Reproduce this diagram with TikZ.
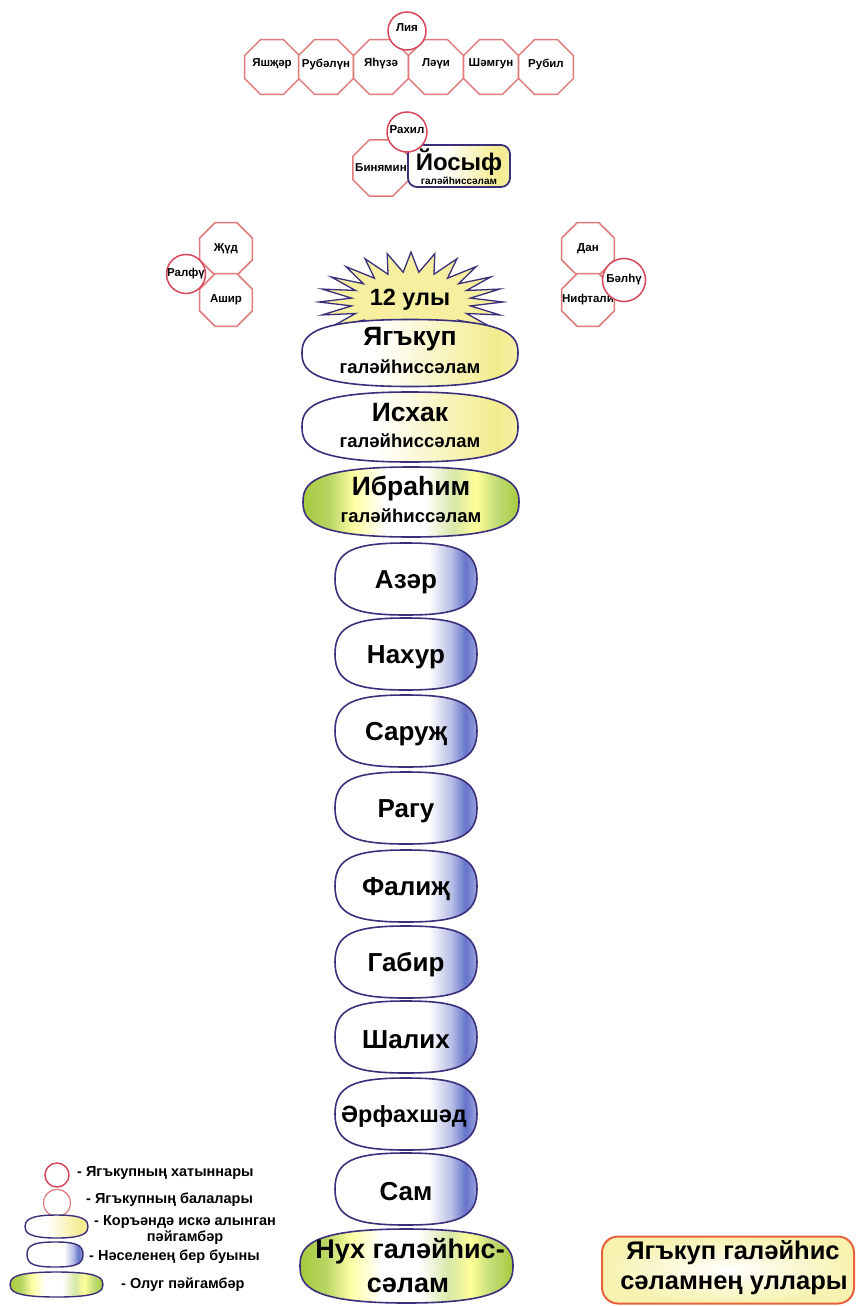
\documentclass[tikz,border=0pt]{standalone}
\usepackage{fontspec}
\setmainfont{Liberation Sans}
\usetikzlibrary{shapes.geometric}
\definecolor{octc}{HTML}{E07A7A}
\definecolor{wifec}{HTML}{D9475A}
\definecolor{purc}{HTML}{3B2F7C}
\definecolor{yelc}{HTML}{F3EC8E}
\definecolor{grnc}{HTML}{A6CB3C}
\definecolor{bluc}{HTML}{4A5BC0}
\definecolor{orc}{HTML}{E8623C}
\pgfdeclarehorizontalshading{yelshade}{100bp}{color(0bp)=(white); color(25bp)=(white); color(42bp)=(white); color(70bp)=(yelc); color(75bp)=(yelc!80); color(100bp)=(yelc!80)}
\pgfdeclarehorizontalshading{blushade}{100bp}{color(0bp)=(white); color(25bp)=(white); color(58bp)=(white); color(66bp)=(bluc!40); color(71bp)=(bluc!85); color(75bp)=(bluc!55); color(100bp)=(bluc!55)}
\pgfdeclarehorizontalshading{grnshade}{100bp}{color(0bp)=(grnc); color(25bp)=(grnc); color(31bp)=(grnc!80!white); color(37bp)=(yellow!35!white); color(44bp)=(white); color(53bp)=(white); color(60bp)=(grnc!45!white); color(65bp)=(yellow!40!white); color(70bp)=(grnc!70!white); color(75bp)=(grnc); color(100bp)=(grnc)}
% #1 style, #2 cx, #3 cy, #4 half width, #5 half height, #6 k, #7 m
\newcommand\squircle[7]{\path[#1] ({#2},{#3-#5}) .. controls ({#2+#6*#4},{#3-#5}) and ({#2+#4},{#3-#7*#5}) .. ({#2+#4},{#3}) .. controls ({#2+#4},{#3+#7*#5}) and ({#2+#6*#4},{#3+#5}) .. ({#2},{#3+#5}) .. controls ({#2-#6*#4},{#3+#5}) and ({#2-#4},{#3+#7*#5}) .. ({#2-#4},{#3}) .. controls ({#2-#4},{#3-#7*#5}) and ({#2-#6*#4},{#3-#5}) .. cycle;}
\begin{document}
\begin{tikzpicture}[x=1pt,y=-1pt,
  octbox/.style={regular polygon, regular polygon sides=8, draw=octc, line width=1.5pt, fill=white, minimum size=59.5pt, inner sep=0pt},
  wifebox/.style={circle, draw=wifec, line width=1.5pt, fill=white, inner sep=0pt},
  smalltxt/.style={font=\bfseries\fontsize{11.5}{13}\selectfont, inner sep=0pt},
  nametxt/.style={font=\bfseries\fontsize{26}{27}\selectfont},
  bignametxt/.style={font=\bfseries\fontsize{26.5}{27}\selectfont},
  titletxt/.style={font=\bfseries\fontsize{18.5}{19}\selectfont},
  bigtxt/.style={font=\bfseries\fontsize{27}{28}\selectfont},
  legtxt/.style={font=\bfseries\fontsize{14.5}{16}\selectfont, inner sep=0pt, anchor=west},
  yelfill/.style={shade, shading=yelshade, draw=purc, line width=1.6pt},
  blufill/.style={shade, shading=blushade, draw=purc, line width=1.6pt},
  grnfill/.style={shade, shading=grnshade, draw=purc, line width=1.6pt}]
\useasboundingbox (0,0) rectangle (857,1306);
\fill[white] (0,0) rectangle (857,1306);

% top row: sons of Liya
\node[octbox, label={[smalltxt, yshift=3pt]center:Яшҗәр}] (yashjar) at (272,67) {};
\node[octbox, label={[smalltxt, yshift=3pt]center:Рубәлүн}] (rubalun) at (326,67) {};
\node[octbox, label={[smalltxt, yshift=3pt]center:Яһүзә}] (yahuza) at (381,67) {};
\node[octbox, label={[smalltxt, yshift=3pt]center:Ләүи}] (lavi) at (436,67) {};
\node[octbox, label={[smalltxt, yshift=3pt]center:Шәмгун}] (shamgun) at (491,67) {};
\node[octbox, label={[smalltxt, yshift=3pt]center:Рубил}] (rubil) at (546,67) {};
\node[wifebox, minimum size=38pt, label={[smalltxt, yshift=3pt]center:Лия}] (liya) at (407,31) {};

% Rahil group
\node[octbox, minimum size=61pt, label={[smalltxt]center:Бинямин}] (binyamin) at (381,168) {};
\node[draw=purc, line width=1.8pt, rounded corners=9pt, minimum width=102pt, minimum height=42pt, shade, shading=yelshade] (yosif) at (459,166) {};
\node[font=\bfseries\fontsize{24}{24}\selectfont] (yosifname) at (459,162) {Йосыф};
\node[font=\bfseries\fontsize{10}{10}\selectfont] (yosiftitle) at (459,181) {галәйһиссәлам};
\node[wifebox, minimum size=40pt, label={[smalltxt, yshift=2pt]center:Рахил}] (rahil) at (407,132) {};

% left group
\node[octbox, minimum size=57pt, label={[smalltxt]center:Җүд}] (jud) at (226,249) {};
\node[octbox, minimum size=57pt, label={[smalltxt]center:Ашир}] (ashir) at (226,300) {};
\node[wifebox, minimum size=39pt, label={[smalltxt]center:Ралфү}] (ralfu) at (186,274) {};

% right group
\node[octbox, minimum size=57pt, label={[smalltxt]center:Дан}] (dan) at (588,249) {};
\node[octbox, minimum size=57pt, label={[smalltxt]center:Нифтали}] (niftali) at (588,300) {};
\node[wifebox, minimum size=43pt, label={[smalltxt]center:Бәлһү}] (balhu) at (624,280) {};

% sun
\filldraw[fill=yelc!85!white, draw=purc, line width=1.3pt, line join=miter] (503,302) \foreach \i in {1,...,47}{ -- ({411+ifthenelse(mod(\i,2)==0,92,60)*cos(7.5*\i)},{302-ifthenelse(mod(\i,2)==0,50,30)*sin(7.5*\i)})} -- cycle;
\node[font=\bfseries\fontsize{23.5}{24}\selectfont] (sun) at (410,300) {12 улы};

% main column
\squircle{yelfill}{410}{353}{108}{33.5}{0.93}{0.5}
\node[bignametxt] (yakup) at (410,339) {Ягъкуп};
\node[titletxt] (yakupt) at (410,367) {галәйһиссәлам};
\squircle{yelfill}{410}{427}{108}{35}{0.93}{0.5}
\node[bignametxt] (isxak) at (410,413) {Исхак};
\node[titletxt] (isxakt) at (410,441) {галәйһиссәлам};
\squircle{grnfill}{411}{502}{108}{35}{0.93}{0.5}
\node[bignametxt] (ibrahim) at (411,489) {Ибраһим};
\node[titletxt] (ibrahimt) at (411,516) {галәйһиссәлам};

\squircle{blufill}{406}{579}{71}{36}{0.72}{0.8}
\node[nametxt] (azar) at (406,582) {Азәр};
\squircle{blufill}{406}{654}{71}{36}{0.72}{0.8}
\node[nametxt] (naxur) at (406,657) {Нахур};
\squircle{blufill}{406}{731}{71}{36}{0.72}{0.8}
\node[nametxt] (saruj) at (406,734) {Саруҗ};
\squircle{blufill}{406}{808}{71}{36}{0.72}{0.8}
\node[nametxt] (ragu) at (406,811) {Рагу};
\squircle{blufill}{406}{886}{71}{36}{0.72}{0.8}
\node[nametxt] (falij) at (406,889) {Фалиҗ};
\squircle{blufill}{406}{962}{71}{36}{0.72}{0.8}
\node[nametxt] (gabir) at (406,965) {Габир};
\squircle{blufill}{406}{1037}{71}{36}{0.72}{0.8}
\node[nametxt] (shalix) at (406,1040) {Шалих};
\squircle{blufill}{406}{1114}{71}{36}{0.72}{0.8}
\node[nametxt, font=\bfseries\fontsize{23.5}{24}\selectfont] (arfaxshad) at (404,1116) {Әрфахшәд};
\squircle{blufill}{406}{1189}{71}{36}{0.72}{0.8}
\node[nametxt] (sam) at (406,1192) {Сам};

\squircle{grnfill}{406.5}{1266}{106.5}{37}{0.93}{0.5}
\node[bigtxt] (nux) at (410,1251) {Нух галәйһис-};
\node[bigtxt] (nuxt) at (408,1285) {сәлам};

% legend
\node[wifebox, minimum size=24pt] (legwife) at (57,1175) {};
\node[octbox, minimum size=29pt, rounded corners=4pt, line width=1.2pt] (legchild) at (57,1203) {};
\squircle{yelfill, line width=1.4pt}{56.5}{1226.5}{31.5}{11.5}{0.9}{0.5}
\squircle{blufill, line width=1.4pt}{55}{1254.5}{28}{12.5}{0.72}{0.8}
\squircle{grnfill, line width=1.4pt}{56.5}{1284.5}{46.5}{12.5}{0.93}{0.5}
\node[legtxt] (lt1) at (77,1173) {- Ягъкупның хатыннары};
\node[legtxt] (lt2) at (86,1200) {- Ягъкупның балалары};
\node[legtxt, align=center] (lt3) at (94,1230) {- Коръәндә искә алынган\\пәйгамбәр};
\node[legtxt] (lt4) at (89,1257) {- Нәселенең бер буыны};
\node[legtxt] (lt5) at (121,1285) {- Олуг пәйгамбәр};

% title box
\node[draw=orc, line width=2pt, rounded corners=16pt, inner color=white, outer color=yelc!70, minimum width=252pt, minimum height=67pt] (sonsbox) at (728,1270) {};
\node[font=\bfseries\fontsize{25.5}{26}\selectfont] (sons1) at (733,1253) {Ягъкуп галәйһис};
\node[font=\bfseries\fontsize{25.5}{26}\selectfont] (sons2) at (734,1285) {сәламнең уллары};
\end{tikzpicture}
\end{document}
